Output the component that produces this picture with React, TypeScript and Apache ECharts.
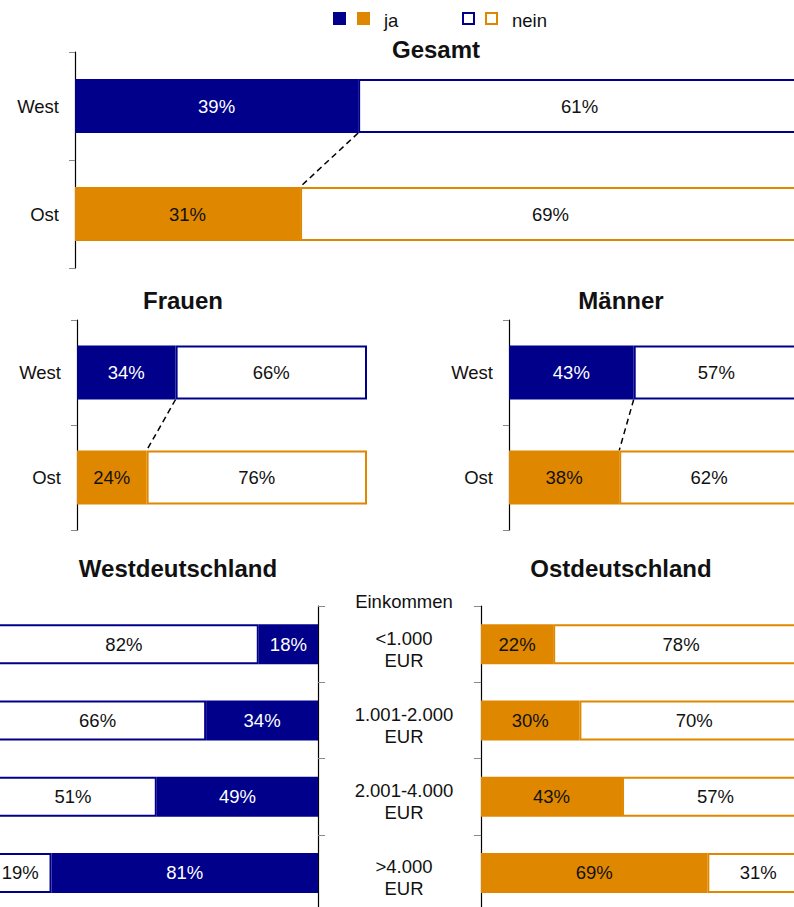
import React, { useEffect, useRef } from "react";
import * as echarts from "echarts";

const FONT = "'Liberation Sans', Arial, Helvetica, sans-serif";
const NAVY = "#00008B";
const ORANGE = "#E08700";
const FS = 18.5;

const topCats = ["West", "Ost"];
const gesamtJa = [39, 31];
const gesamtNein = [61, 69];
const frauenJa = [34, 24];
const frauenNein = [66, 76];
const maennerJa = [43, 38];
const maennerNein = [57, 62];

const incomeCats = ["<1.000\nEUR", "1.001-2.000\nEUR", "2.001-4.000\nEUR", ">4.000\nEUR"];
const westJa = [18, 34, 49, 81];
const westNein = [82, 66, 51, 19];
const ostJa = [22, 30, 43, 69];
const ostNein = [78, 70, 57, 31];

const titles = [
  { text: "Gesamt", x: 436, y: 49 },
  { text: "Frauen", x: 183, y: 300 },
  { text: "Männer", x: 621, y: 300 },
  { text: "Westdeutschland", x: 178, y: 568 },
  { text: "Ostdeutschland", x: 621, y: 568 },
];

function barSeries(
  idx: number,
  ja: number[],
  nein: number[],
  colors: string[],
  labelColors: string[],
  barWidth: number
) {
  const lbl = { show: true, position: "inside", formatter: "{c}%", fontSize: FS, fontFamily: FONT };
  return [
    {
      type: "bar",
      name: "ja",
      xAxisIndex: idx,
      yAxisIndex: idx,
      stack: "s" + idx,
      barWidth,
      data: ja.map((v, i) => ({
        value: v,
        itemStyle: { color: colors[i] },
        label: { ...lbl, color: labelColors[i] },
      })),
    },
    {
      type: "bar",
      name: "nein",
      xAxisIndex: idx,
      yAxisIndex: idx,
      stack: "s" + idx,
      barWidth,
      data: nein.map((v, i) => ({
        value: v,
        itemStyle: { color: "#ffffff", borderColor: colors[i], borderWidth: 2 },
        label: { ...lbl, color: "#111" },
      })),
    },
  ];
}

function connector(idx: number, ja: number[], barWidth: number) {
  return {
    type: "custom",
    xAxisIndex: idx,
    yAxisIndex: idx,
    silent: true,
    encode: { x: [0, 2], y: [1, 3] },
    data: [[ja[0], 0, ja[1], 1]],
    renderItem: (_p: any, api: any) => {
      const p1 = api.coord([api.value(0), api.value(1)]);
      const p2 = api.coord([api.value(2), api.value(3)]);
      const h = barWidth / 2;
      return {
        type: "line",
        shape: { x1: p1[0], y1: p1[1] + h, x2: p2[0], y2: p2[1] - h },
        style: { stroke: "#000", lineWidth: 1.5, lineDash: [6, 4] },
      };
    },
  };
}

function catAxis(idx: number, data: string[], opts: any) {
  return {
    type: "category",
    gridIndex: idx,
    data,
    inverse: true,
    axisLine: { show: true, lineStyle: { color: "#000", width: 1.2 } },
    axisTick: { show: true, length: 6, lineStyle: { color: "#888", width: 1 } },
    axisLabel: { show: true, fontSize: FS, fontFamily: FONT, color: "#111", margin: 16 },
    ...opts,
  };
}

function valAxis(idx: number, inverse = false) {
  return { type: "value", gridIndex: idx, min: 0, max: 100, show: false, inverse };
}

export default function App() {
  const ref = useRef<HTMLDivElement>(null);
  useEffect(() => {
    document.body.style.margin = "0";
    if (!ref.current) return;
    const chart = echarts.init(ref.current, null, { renderer: "svg" });
    const topColors = [NAVY, ORANGE];
    const topLabelColors = ["#ffffff", "#111"];
    const txt = (text: string, x: number, y: number, align: string, font: string) => ({
      type: "text",
      style: {
        text,
        x,
        y,
        align,
        verticalAlign: "middle",
        textAlign: align,
        textVerticalAlign: "middle",
        font,
        fill: "#111",
      },
    });
    const graphics: any[] = [
      { type: "rect", shape: { x: 333, y: 12, width: 13, height: 13 }, style: { fill: NAVY } },
      { type: "rect", shape: { x: 357, y: 12, width: 13, height: 13 }, style: { fill: ORANGE } },
      txt("ja", 384, 20, "left", `${FS}px ${FONT}`),
      { type: "rect", shape: { x: 463, y: 13, width: 11, height: 11 }, style: { fill: "#fff", stroke: NAVY, lineWidth: 2 } },
      { type: "rect", shape: { x: 486, y: 13, width: 11, height: 11 }, style: { fill: "#fff", stroke: ORANGE, lineWidth: 2 } },
      txt("nein", 512, 20, "left", `${FS}px ${FONT}`),
      txt("Einkommen", 404, 601, "center", `${FS}px ${FONT}`),
      ...titles.map((t) => txt(t.text, t.x, t.y, "center", `bold 24px ${FONT}`)),
    ];

    const option: any = {
      animation: false,
      backgroundColor: "#ffffff",
      grid: [
        { left: 75, top: 52, width: 726, height: 216, outerBoundsMode: "none" },
        { left: 77, top: 320, width: 290, height: 210, outerBoundsMode: "none" },
        { left: 509, top: 320, width: 290, height: 210, outerBoundsMode: "none" },
        { left: -11, top: 606, width: 329, height: 305, outerBoundsMode: "none" },
        { left: 481, top: 606, width: 328, height: 305, outerBoundsMode: "none" },
      ],
      xAxis: [valAxis(0), valAxis(1), valAxis(2), valAxis(3, true), valAxis(4)],
      yAxis: [
        catAxis(0, topCats, {}),
        catAxis(1, topCats, {}),
        catAxis(2, topCats, {}),
        catAxis(3, incomeCats, {
          position: "right",
          axisLabel: { show: false },
          axisTick: { show: true, length: 7, lineStyle: { color: "#888", width: 1 } },
        }),
        catAxis(4, incomeCats, {
          position: "left",
          axisTick: { show: true, length: 7, lineStyle: { color: "#888", width: 1 } },
          axisLabel: {
            show: true,
            color: "#111",
            align: "center",
            margin: 77,
            formatter: (v: string) =>
              v
                .split("\n")
                .map((s) => `{t|${s}}`)
                .join("\n"),
            rich: {
              t: {
                fontSize: FS,
                fontFamily: FONT,
                color: "#111",
                lineHeight: 22,
                padding: [10, 0, 0, 0],
              },
            },
          },
        }),
      ],
      graphic: graphics,
      series: [
        ...barSeries(0, gesamtJa, gesamtNein, topColors, topLabelColors, 54),
        connector(0, gesamtJa, 54),
        ...barSeries(1, frauenJa, frauenNein, topColors, topLabelColors, 54),
        connector(1, frauenJa, 54),
        ...barSeries(2, maennerJa, maennerNein, topColors, topLabelColors, 54),
        connector(2, maennerJa, 54),
        ...barSeries(3, westJa, westNein, westJa.map(() => NAVY), westJa.map(() => "#ffffff"), 40),
        ...barSeries(4, ostJa, ostNein, ostJa.map(() => ORANGE), ostJa.map(() => "#111"), 40),
      ],
    };
    chart.setOption(option);
    return () => chart.dispose();
  }, []);
  return <div ref={ref} style={{ width: 794, height: 907 }} />;
}
